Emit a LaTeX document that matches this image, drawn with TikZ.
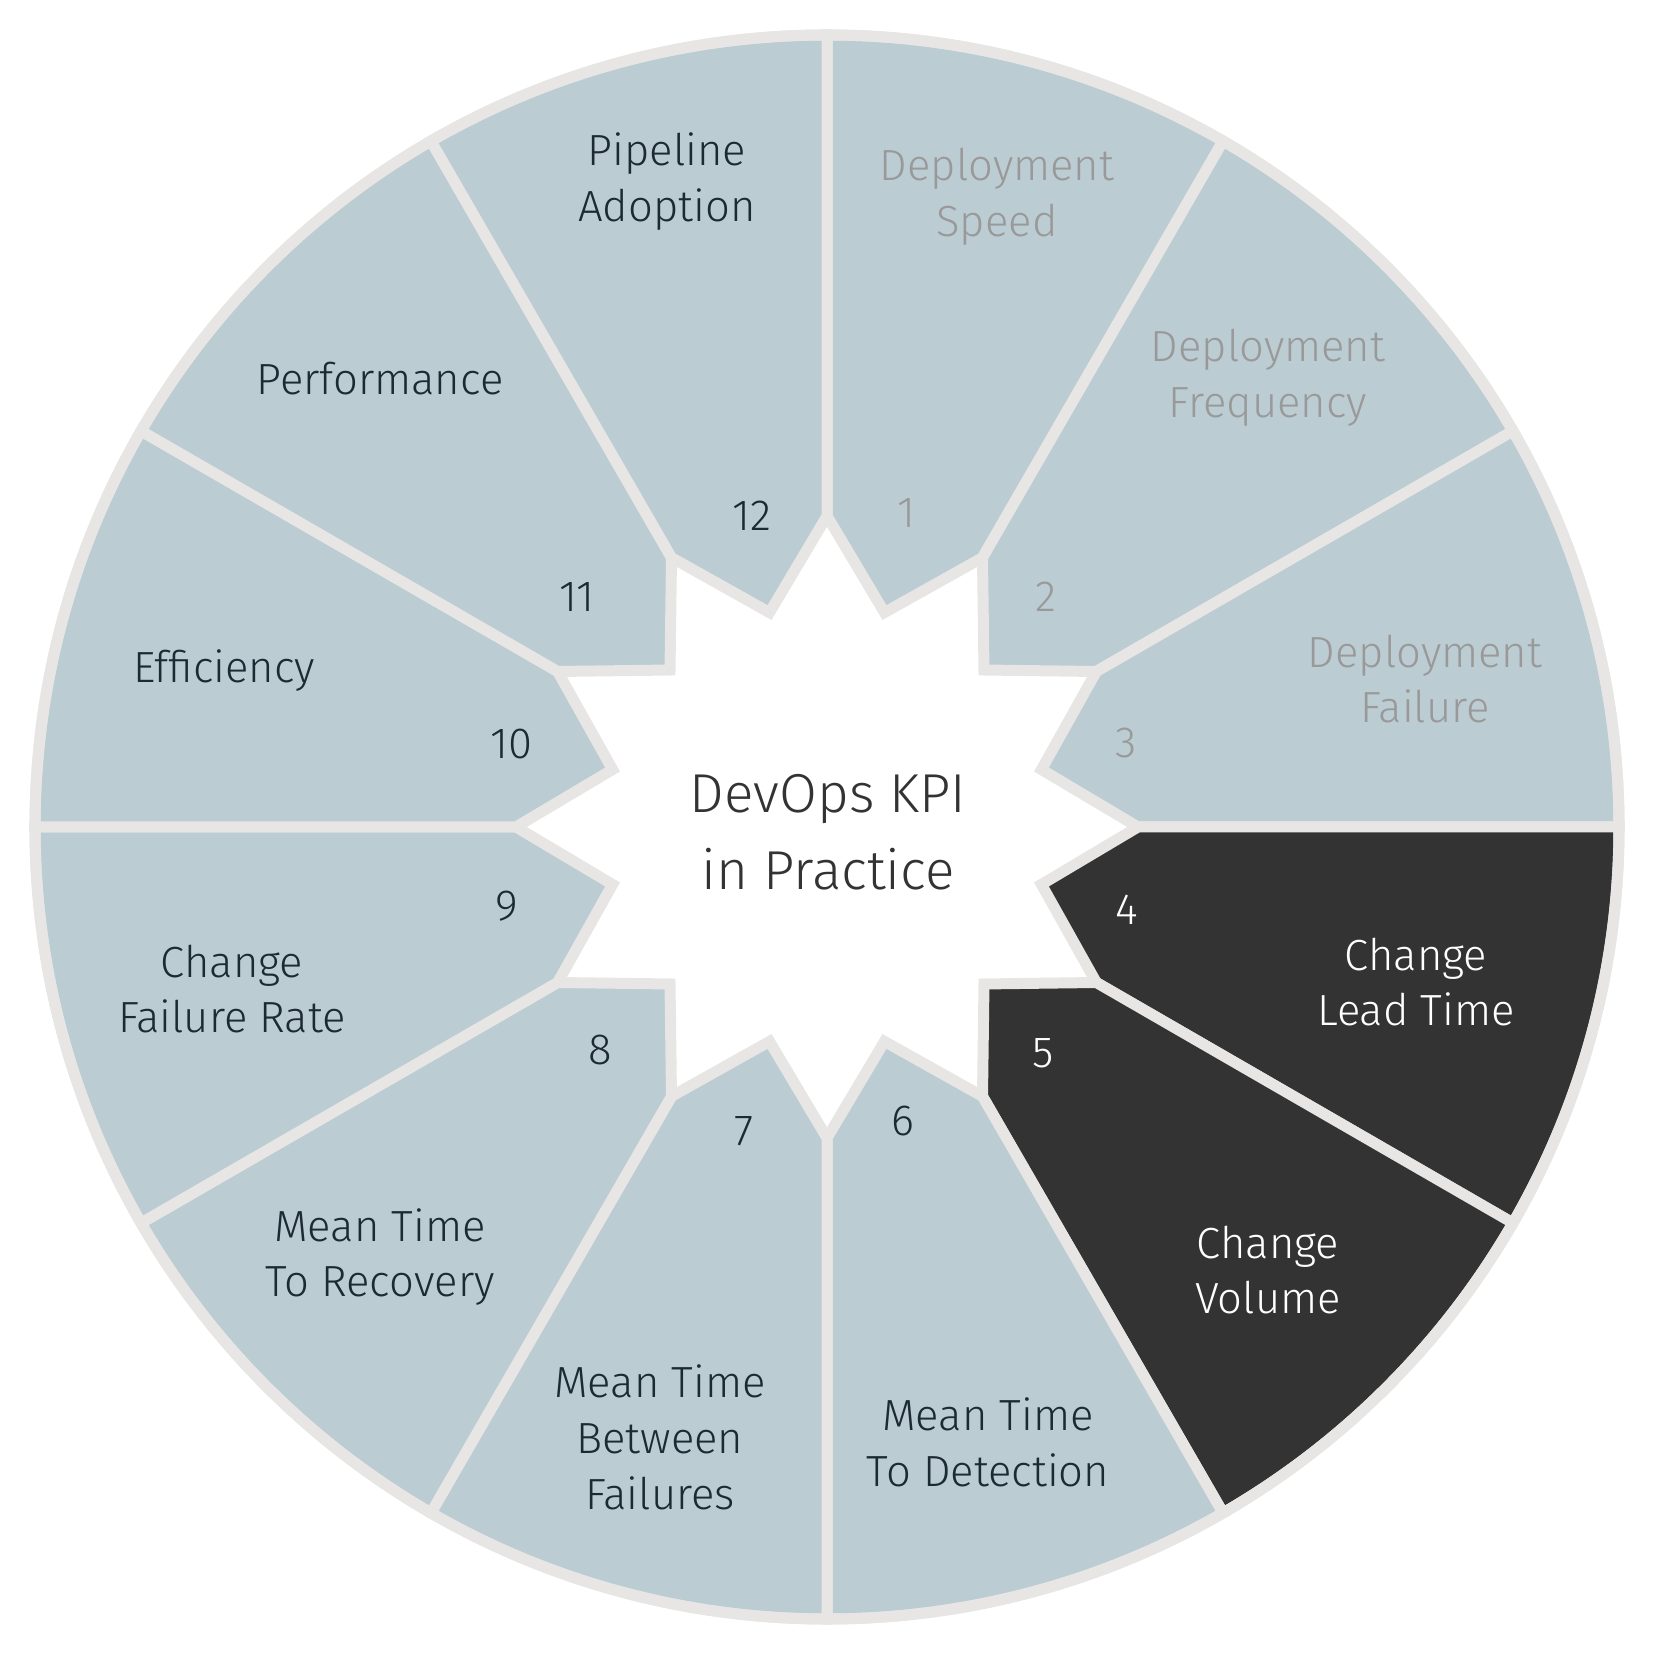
\documentclass[tikz,border=0pt]{standalone}
\usepackage{fontspec}
\setmainfont{Fira Sans Light}
\usepackage{tikz}
\usetikzlibrary{calc}
\definecolor{ringgray}{HTML}{E8E6E4}
\definecolor{kpiblue}{HTML}{BCCCD3}
\definecolor{kpidark}{HTML}{333333}
\definecolor{kpitext}{HTML}{1C2A33}
\definecolor{kpifade}{HTML}{999999}
\def\kpisector[#1](#2:#3){\draw[draw=ringgray, line width=0.11cm, fill=#1] (#2:3.11) -- ({(#2+#3)/2}:2.22) -- (#3:3.11) -- (#3:7.92) arc (#3:#2:7.92) -- cycle;}
\tikzset{
	kpilabel/.style={align=center, font=\fontsize{12.4}{15.9}\selectfont, text=kpitext},
	kpinum/.style={font=\fontsize{12.4}{15.9}\selectfont, text=kpitext},
}

\begin{document}
\begin{tikzpicture}
			%%%%% START %%%%%
			\useasboundingbox (-8.27, -8.28) rectangle (8.28, 8.27);
			
			\kpisector[kpiblue](60:90);
			\kpisector[kpiblue](30:60);
			\kpisector[kpiblue](0:30);
			\kpisector[kpidark](-30:0);
			\kpisector[kpidark](-60:-30);
			\kpisector[kpiblue](-90:-60);
			\kpisector[kpiblue](-120:-90);
			\kpisector[kpiblue](-150:-120);
			\kpisector[kpiblue](-180:-150);
			\kpisector[kpiblue](150:180);
			\kpisector[kpiblue](120:150);
			\kpisector[kpiblue](90:120);
			
			\draw[ringgray, line width=0.11cm] (0, 0) circle (7.92);
			
			\node[font=\fontsize{15.6}{22}\selectfont, align=center, text=kpidark] (title) at (0.01, -0.05) {DevOps KPI\\in Practice};
			
			\node[kpilabel, text=kpifade] (speed) at (1.70, 6.30) {Deployment\\Speed};
			\node[kpilabel, text=kpifade] (frequency) at (4.41, 4.49) {Deployment\\Frequency};
			\node[kpilabel, text=kpifade] (failure) at (5.98, 1.48) {Deployment\\Failure};
			\node[kpilabel, text=white] (leadtime) at (5.89, -1.55) {Change\\Lead Time};
			\node[kpilabel, text=white] (volume) at (4.41, -4.43) {Change\\Volume};
			\node[kpilabel] (mttd) at (1.61, -6.15) {Mean Time\\To Detection};
			\node[kpilabel] (mtbf) at (-1.67, -6.10) {Mean Time\\Between\\Failures};
			\node[kpilabel] (mttr) at (-4.47, -4.30) {Mean Time\\To Recovery};
			\node[kpilabel] (cfr) at (-5.95, -1.62) {Change\\Failure Rate};
			\node[kpilabel] (efficiency) at (-6.03, 1.56) {Efficiency};
			\node[kpilabel] (performance) at (-4.47, 4.48) {Performance};
			\node[kpilabel] (pipeline) at (-1.60, 6.45) {Pipeline\\Adoption};
			
			\node[kpinum, text=kpifade] (n1) at (0.79, 3.14) {1};
			\node[kpinum, text=kpifade] (n2) at (2.19, 2.30) {2};
			\node[kpinum, text=kpifade] (n3) at (2.99, 0.84) {3};
			\node[kpinum, text=white] (n4) at (3.00, -0.83) {4};
			\node[kpinum, text=white] (n5) at (2.16, -2.26) {5};
			\node[kpinum] (n6) at (0.76, -2.94) {6};
			\node[kpinum] (n7) at (-0.83, -3.04) {7};
			\node[kpinum] (n8) at (-2.27, -2.23) {8};
			\node[kpinum] (n9) at (-3.20, -0.79) {9};
			\node[kpinum] (n10) at (-3.16, 0.83) {10};
			\node[kpinum] (n11) at (-2.50, 2.30) {11};
			\node[kpinum] (n12) at (-0.75, 3.11) {12};
			%%%%% END %%%%%
		\end{tikzpicture}
\end{document}
